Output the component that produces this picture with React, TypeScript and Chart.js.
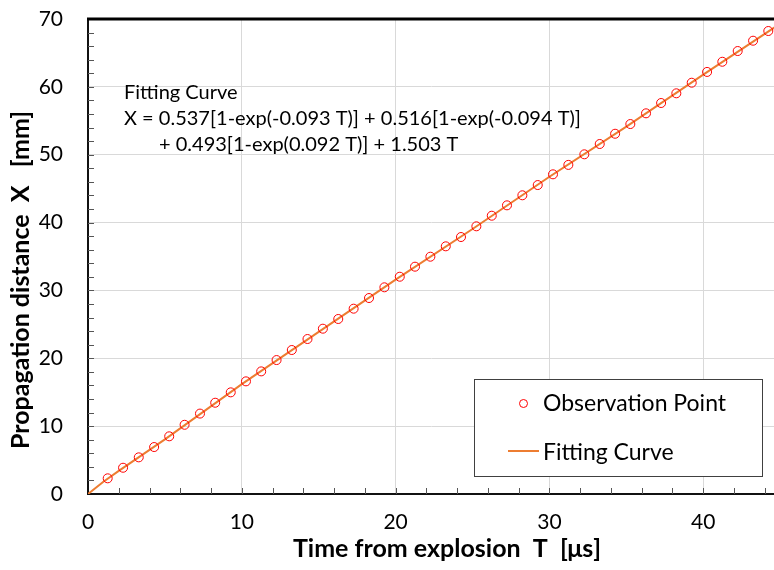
import React, { useEffect, useRef } from "react";
import { Chart, registerables } from "chart.js";

Chart.register(...registerables);

// Observation points (time T [μs], distance X [mm])
const obsT = [
  1.28, 2.28, 3.3, 4.3, 5.28, 6.28, 7.28, 8.27, 9.28, 10.27, 11.26, 12.26,
  13.25, 14.27, 15.27, 16.27, 17.27, 18.27, 19.27, 20.27, 21.26, 22.26, 23.26,
  24.25, 25.25, 26.25, 27.24, 28.24, 29.24, 30.23, 31.23, 32.27, 33.27, 34.27,
  35.26, 36.28, 37.26, 38.25, 39.25, 40.25, 41.24, 42.24, 43.24, 44.23,
];
const obsX = [
  2.31, 3.87, 5.4, 6.92, 8.5, 10.2, 11.85, 13.45, 14.98, 16.6, 18.07, 19.74,
  21.22, 22.84, 24.36, 25.79, 27.31, 28.88, 30.46, 32.02, 33.5, 34.97, 36.5,
  37.87, 39.45, 41.01, 42.54, 44.02, 45.53, 47.11, 48.5, 50.06, 51.58, 53.09,
  54.52, 56.1, 57.62, 59.05, 60.61, 62.2, 63.7, 65.28, 66.8, 68.23,
];

// Fitting curve
const fitT = [0, 1, 2, 5, 10, 15, 20, 25, 30, 35, 40, 45];
const fitX = [0, 1.8, 3.4, 8.05, 16.2, 23.9, 31.6, 39.05, 46.75, 54.15, 61.8, 69.3];

const xMin = 0;
const xMax = 44.6;
const xStep = 10;
const xMinorStep = 2;
const yMin = 0;
const yMax = 70;
const yStep = 10;
const yMinorStep = 2;

const xTitle = "Time from explosion  T  [\u03bcs]";
const yTitle = "Propagation distance  X   [mm]";
const equationLines = [
  "Fitting Curve",
  "X = 0.537[1-exp(-0.093 T)] + 0.516[1-exp(-0.094 T)]",
  "+ 0.493[1-exp(0.092 T)] + 1.503 T",
];
const equationIndent = [0, 0, 35];
const legendLabels = ["Observation Point", "Fitting Curve"];

const FONT = "Lato, 'Liberation Sans', sans-serif";
const POINT_COLOR = "#ff0000";
const LINE_COLOR = "#ed7d31";

const decorPlugin = {
  id: "decor",
  afterDatasetsDraw(chart: any) {
    const { ctx, chartArea, scales } = chart;
    const xs = scales.x;
    const ys = scales.y;
    ctx.save();
    // minor ticks
    ctx.strokeStyle = "#555";
    ctx.lineWidth = 1;
    for (let v = yMin + yMinorStep; v < yMax; v += yMinorStep) {
      const py = Math.round(ys.getPixelForValue(v)) + 0.5;
      ctx.beginPath();
      ctx.moveTo(chartArea.left, py);
      ctx.lineTo(chartArea.left + 6, py);
      ctx.stroke();
    }
    for (let v = xMin + xMinorStep; v < xMax; v += xMinorStep) {
      const px = Math.round(xs.getPixelForValue(v)) + 0.5;
      ctx.beginPath();
      ctx.moveTo(px, chartArea.bottom);
      ctx.lineTo(px, chartArea.bottom - 6);
      ctx.stroke();
    }
    // top border
    ctx.strokeStyle = "#000";
    ctx.lineWidth = 3;
    ctx.beginPath();
    ctx.moveTo(chartArea.left - 1, chartArea.top);
    ctx.lineTo(chartArea.right, chartArea.top);
    ctx.stroke();

    // equation annotation
    ctx.fillStyle = "#000";
    ctx.font = `20px ${FONT}`;
    ctx.textAlign = "left";
    ctx.textBaseline = "alphabetic";
    const ex = chartArea.left + 36;
    const ey = chartArea.top + 80;
    equationLines.forEach((line, i) => {
      ctx.fillText(line, ex + equationIndent[i], ey + i * 26);
    });

    // legend box
    const bx = 474;
    const by = 379;
    const bw = 288;
    const bh = 97;
    ctx.fillStyle = "#fff";
    ctx.fillRect(bx, by, bw, bh);
    ctx.strokeStyle = "#404040";
    ctx.lineWidth = 1;
    ctx.strokeRect(bx + 0.5, by + 0.5, bw, bh);
    ctx.strokeStyle = POINT_COLOR;
    ctx.lineWidth = 1;
    ctx.beginPath();
    ctx.arc(bx + 49.5, by + 24.5, 4, 0, Math.PI * 2);
    ctx.stroke();
    ctx.strokeStyle = LINE_COLOR;
    ctx.lineWidth = 2;
    ctx.beginPath();
    ctx.moveTo(bx + 34, by + 72);
    ctx.lineTo(bx + 65, by + 72);
    ctx.stroke();
    ctx.fillStyle = "#000";
    ctx.font = `23px ${FONT}`;
    ctx.textBaseline = "alphabetic";
    ctx.fillText(legendLabels[0], bx + 69, by + 32);
    ctx.fillText(legendLabels[1], bx + 69, by + 81);

    // axis titles
    ctx.font = `bold 25px ${FONT}`;
    ctx.textAlign = "center";
    ctx.fillText(xTitle, 447, 557);
    ctx.translate(28.5, 280);
    ctx.rotate(-Math.PI / 2);
    ctx.fillText(yTitle, 0, 0);
    ctx.restore();
  },
};

export default function App() {
  const canvasRef = useRef<HTMLCanvasElement | null>(null);

  useEffect(() => {
    const canvas = canvasRef.current;
    if (!canvas) return;
    Chart.defaults.font.family = FONT;
    Chart.defaults.color = "#000";
    const chart = new Chart(canvas, {
      type: "scatter",
      data: {
        datasets: [
          {
            label: legendLabels[0],
            data: obsT.map((t, i) => ({ x: t, y: obsX[i] })),
            showLine: false,
            pointRadius: 4.5,
            pointBorderWidth: 1,
            pointBorderColor: POINT_COLOR,
            pointBackgroundColor: "rgba(0,0,0,0)",
            pointStyle: "circle",
          },
          {
            label: legendLabels[1],
            data: fitT.map((t, i) => ({ x: t, y: fitX[i] })),
            showLine: true,
            borderColor: LINE_COLOR,
            borderWidth: 2,
            pointRadius: 0,
            tension: 0,
          },
        ],
      },
      options: {
        responsive: false,
        animation: false,
        devicePixelRatio: 1,
        layout: { padding: 0, autoPadding: false },
        plugins: {
          legend: { display: false },
          tooltip: { enabled: false },
        },
        scales: {
          x: {
            type: "linear",
            min: xMin,
            max: xMax,
            afterFit: (s: any) => {
              s.height = 76;
              s.paddingLeft = 0;
              s.paddingRight = 0;
            },
            ticks: {
              stepSize: xStep,
              includeBounds: false,
              padding: 16,
              font: { size: 21, family: FONT },
              color: "#000",
            },
            grid: { color: "#d9d9d9", lineWidth: 1, drawTicks: false },
            border: { display: true, color: "#111", width: 2 },
            title: { display: false },
          },
          y: {
            type: "linear",
            min: yMin,
            max: yMax,
            afterFit: (s: any) => {
              s.width = 88;
              s.paddingTop = 19;
              s.paddingBottom = 0;
            },
            ticks: {
              stepSize: yStep,
              padding: 25,
              font: { size: 21, family: FONT },
              color: "#000",
            },
            grid: { color: "#d9d9d9", lineWidth: 1, drawTicks: false },
            border: { display: true, color: "#111", width: 2 },
            title: { display: false },
          },
        },
      },
      plugins: [decorPlugin],
    } as any);
    return () => chart.destroy();
  }, []);

  return (
    <div style={{ position: "fixed", left: 0, top: 0, width: 774, height: 570, overflow: "hidden", background: "#fff" }}>
      <canvas ref={canvasRef} width={774} height={570} style={{ width: 774, height: 570, display: "block" }} />
    </div>
  );
}
